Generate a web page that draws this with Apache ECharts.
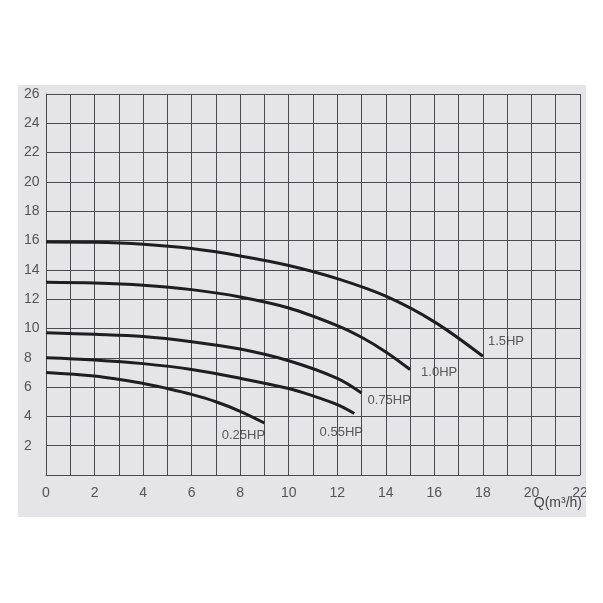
<!DOCTYPE html>
<html><head><meta charset="utf-8">
<script src="https://cdn.jsdelivr.net/npm/echarts@6/dist/echarts.min.js"></script>
<style>
html,body{margin:0;padding:0;background:#fff}
#wrap{position:relative;width:603px;height:603px;background:#fff}
#photo{position:absolute;left:18px;top:85px;width:568px;height:432px;background:#e4e4e9}
#c{position:absolute;left:0;top:0;width:603px;height:603px}
#cut{position:absolute;left:586px;top:0;width:17px;height:603px;background:#fff}
</style>
</head><body><div id="wrap"><div id="photo"></div><div id="c"></div><div id="cut"></div></div>
<script>
// Q (m3/h) and head H (m), one list per curve
const q150 = [0, 2, 4, 6, 8, 10, 12, 14, 16, 18];
const h150 = [15.9, 15.88, 15.75, 15.45, 14.95, 14.3, 13.4, 12.2, 10.45, 8.1];
const q100 = [0, 2, 4, 6, 8, 10, 12, 13, 14, 15];
const h100 = [13.15, 13.1, 12.95, 12.65, 12.15, 11.4, 10.2, 9.4, 8.4, 7.2];
const q075 = [0, 2, 4, 6, 8, 10, 12, 13];
const h075 = [9.7, 9.6, 9.45, 9.1, 8.6, 7.8, 6.6, 5.6];
const q055 = [0, 2, 4, 6, 8, 10, 11, 12, 12.7];
const h055 = [8.0, 7.85, 7.6, 7.2, 6.6, 5.9, 5.4, 4.8, 4.2];
const q025 = [0, 2, 4, 5, 6, 7, 8, 9];
const h025 = [7.0, 6.75, 6.25, 5.9, 5.5, 5.0, 4.35, 3.55];
const curveNames = ['1.5HP', '1.0HP', '0.75HP', '0.55HP', '0.25HP'];
const xTicks = [0, 2, 4, 6, 8, 10, 12, 14, 16, 18, 20, 22];
const yTicks = [2, 4, 6, 8, 10, 12, 14, 16, 18, 20, 22, 24, 26];
const xName = 'Q(m³/h)';

const qs = [q150, q100, q075, q055, q025];
const hs = [h150, h100, h075, h055, h025];
const zip = (q, h) => q.map((v, i) => [v, h[i]]);

// label placement style relative to each curve end point
const labelStyles = [
  {align: 'left', offset: [5, -15]},
  {align: 'left', offset: [11, 3]},
  {align: 'left', offset: [6, 7]},
  {align: 'center', offset: [-13, 19]},
  {align: 'center', offset: [-21, 12]}
];

const lineSeries = qs.map((q, i) => ({
  type: 'line',
  name: curveNames[i],
  data: zip(q, hs[i]),
  smooth: 0.35,
  showSymbol: false,
  symbol: 'none',
  lineStyle: {color: '#1e1e22', width: 3},
  z: 3
}));

const labelSeries = {
  type: 'scatter',
  symbolSize: 0,
  silent: true,
  data: qs.map((q, i) => ({
    value: [q[q.length - 1], hs[i][hs[i].length - 1]],
    label: {
      show: true,
      formatter: curveNames[i],
      position: 'inside',
      align: labelStyles[i].align,
      verticalAlign: 'middle',
      offset: labelStyles[i].offset,
      color: '#333',
      fontSize: 13,
      fontFamily: 'Liberation Sans'
    }
  })),
  z: 4
};

const chart = echarts.init(document.getElementById('c'), null, {renderer: 'canvas'});
chart.setOption({
  animation: false,
  backgroundColor: 'transparent',
  grid: {left: 46, right: 23, top: 94, bottom: 128, containLabel: false},
  xAxis: {
    type: 'value', min: 0, max: 22, interval: 1,
    axisLine: {show: true, lineStyle: {color: '#4a4a50', width: 1}},
    axisTick: {show: false},
    splitLine: {show: true, lineStyle: {color: '#4a4a50', width: 1}},
    axisLabel: {
      margin: 11, color: '#555', fontSize: 14, fontFamily: 'Liberation Sans',
      formatter: v => (xTicks.indexOf(v) >= 0 ? String(v) : ''),
      showMaxLabel: true, showMinLabel: true
    }
  },
  yAxis: {
    type: 'value', min: 0, max: 26, interval: 2,
    axisLine: {show: true, lineStyle: {color: '#4a4a50', width: 1}},
    axisTick: {show: false},
    splitLine: {show: true, lineStyle: {color: '#4a4a50', width: 1}},
    axisLabel: {
      margin: 22, align: 'left', color: '#555', fontSize: 14, fontFamily: 'Liberation Sans',
      formatter: v => (yTicks.indexOf(v) >= 0 ? String(v) : '')
    }
  },
  graphic: [{
    type: 'text', right: 21, top: 496,
    style: {text: xName, fill: '#444', fontSize: 14, fontFamily: 'Liberation Sans'}
  }],
  series: lineSeries.concat([labelSeries])
});
</script>
</body></html>
